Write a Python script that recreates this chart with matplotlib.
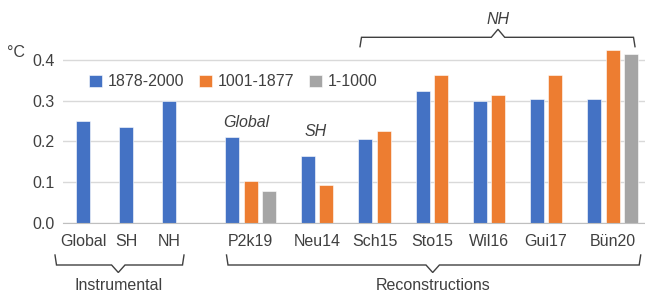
import numpy as np
import matplotlib
matplotlib.use('Agg')
import matplotlib.pyplot as plt
from matplotlib.transforms import blended_transform_factory

plt.rcParams['font.family'] = ['Liberation Sans', 'DejaVu Sans']
plt.rcParams['font.size'] = 11.5

nan = np.nan
categories = ['Global', 'SH', 'NH', 'P2k19', 'Neu14', 'Sch15', 'Sto15',
              'Wil16', 'Gui17', 'Bün20']
series_names = ['1878-2000', '1001-1877', '1-1000']
recent = [0.25, 0.235, 0.30, 0.21, 0.165, 0.205, 0.325, 0.30, 0.305, 0.305]
medieval = [nan, nan, nan, 0.103, 0.093, 0.225, 0.365, 0.315, 0.365, 0.425]
early = [nan, nan, nan, 0.078, nan, nan, nan, nan, nan, 0.415]
series = [recent, medieval, early]
colors = ['#4472C4', '#ED7D31', '#A5A5A5']

# layout: category centres in pixel-like units across the axis
cat_x = np.array([83, 126, 169, 250.5, 317, 374.5, 432, 489, 546, 612.7])
pitch = 18.3
width = 14
text_c = '#404040'

W, H = 645, 294
fig = plt.figure(figsize=(W / 100, H / 100), dpi=100)
ax = fig.add_axes([63 / W, (H - 222.7) / H, (645 - 63) / W, 0.44 * 406 / H])

vals = np.array(series, dtype=float)
nbar = (~np.isnan(vals)).sum(axis=0)
handles = []
for i, s in enumerate(series):
    s = np.array(s, dtype=float)
    ok = ~np.isnan(s)
    x = cat_x + (i - (nbar - 1) / 2) * pitch
    b = ax.bar(x[ok], s[ok], width=width, color=colors[i], edgecolor='white',
               linewidth=0.4, label=series_names[i], zorder=3, clip_on=False)
    handles.append(b)

ax.set_xlim(63, 645)
ax.set_ylim(0, 0.44)
ax.set_yticks([0, 0.1, 0.2, 0.3, 0.4])
ax.set_yticklabels(['0.0', '0.1', '0.2', '0.3', '0.4'])
ax.set_xticks(cat_x)
ax.set_xticklabels(categories)
ax.tick_params(axis='both', length=0, colors=text_c, labelsize=11.5)
ax.tick_params(axis='y', pad=6)
ax.tick_params(axis='x', pad=8)
ax.grid(axis='y', color='#D9D9D9', linewidth=1, zorder=0)
for side in ['top', 'left', 'right']:
    ax.spines[side].set_visible(False)
ax.spines['bottom'].set_color('#BFBFBF')
ax.spines['bottom'].set_zorder(4)

fig.legend(handles=handles, loc='center left',
           bbox_to_anchor=(89 / W, (H - 81.7) / H), ncol=3, frameon=False,
           borderpad=0, borderaxespad=0, handlelength=0.8, handleheight=0.8,
           handletextpad=0.35, columnspacing=0.95, fontsize=11.5,
           labelcolor=text_c)

fig.text(16.5 / W, (H - 52.8) / H, '°C', ha='center', va='center',
         color=text_c, fontsize=11.5)

ax.text(246, 0.2456, 'Global', style='italic', ha='center', va='center',
        color=text_c)
ax.text(316, 0.224, 'SH', style='italic', ha='center', va='center',
        color=text_c)

# brackets: x in data units, y in figure pixels from top
tr = blended_transform_factory(ax.transData, fig.transFigure)


def bracket(x0, x1, xm, y_end, y_line, y_tip, label, y_text, italic=False):
    xs = [x0, x0 + 1.5, xm - 6.7, xm, xm + 6.7, x1 - 1.5, x1]
    ys = [y_end, y_line, y_line, y_tip, y_line, y_line, y_end]
    ax.plot(xs, [(H - y) / H for y in ys], transform=tr, color=text_c,
            linewidth=1, clip_on=False, solid_joinstyle='miter')
    fig.text(xm, (H - y_text) / H, label, transform=tr, ha='center',
             va='center', color=text_c, fontsize=11.5,
             style='italic' if italic else 'normal')


bracket(cat_x[0] - 28, cat_x[2] + 15, 118.3, 255, 265, 272.5,
        'Instrumental', 285.7)
bracket(cat_x[3] - 24, cat_x[9] + 28, 432.7, 255, 265, 272.5,
        'Reconstructions', 285.5)
bracket(cat_x[5] - 14.5, cat_x[9] + 22.3, 498, 46.7, 37.3, 29.3, 'NH', 20,
        italic=True)

fig.savefig('out.png', dpi=100)
